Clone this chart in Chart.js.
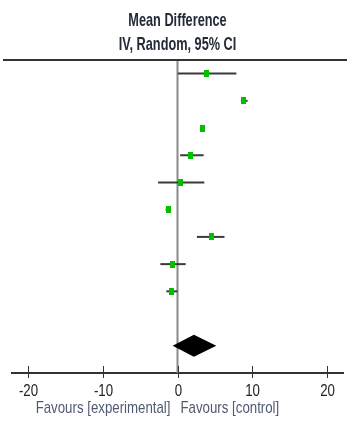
<!DOCTYPE html>
<html>
<head>
<meta charset="utf-8">
<script src="https://cdn.jsdelivr.net/npm/chart.js@4.4.1/dist/chart.umd.min.js"></script>
<style>
    body { margin: 0; background: #fff; }
    #wrap { width: 347px; height: 427px; position: relative; }
</style>
</head>
<body>
<div id="wrap"><canvas id="forest"></canvas></div>
<script>
// study rows (top to bottom), mean difference with 95% CI
const rows = [0, 1, 2, 3, 4, 5, 6, 7, 8];
const md = [3.9, 8.9, 3.4, 1.8, 0.45, -1.25, 4.5, -0.65, -0.8];
const ciLow = [0.05, 8.5, 3.1, 0.35, -2.6, -1.6, 2.6, -2.3, -1.5];
const ciHigh = [7.9, 9.4, 3.6, 3.5, 3.6, -0.9, 6.3, 1.1, 0.0];

// pooled estimate (diamond)
const totalRow = 10;
const totalMd = 2.2;
const totalLow = -0.65;
const totalHigh = 5.2;

const xTicks = [-20, -10, 0, 10, 20];
const fontName = '"Liberation Sans", Arial, sans-serif';

// narrow text: Arial squeezed sideways
function narrowText(ctx, text, x, y, align, font, sx, color) {
    ctx.save();
    ctx.translate(x, y);
    ctx.scale(sx, 1);
    ctx.font = font + ' ' + fontName;
    ctx.fillStyle = color;
    ctx.textAlign = align;
    ctx.textBaseline = 'middle';
    ctx.fillText(text, 0, 0);
    ctx.restore();
}

// slightly tall green box used as the point marker
const marker = document.createElement('canvas');
marker.width = 5;
marker.height = 7;
const mctx = marker.getContext('2d');
mctx.fillStyle = '#00c000';
mctx.fillRect(0, 0, 5, 7);

const forestPlugin = {
    id: 'forest',
    beforeDatasetsDraw(chart) {
        const { ctx, chartArea, scales: { x, y } } = chart;
        ctx.save();
        // line of no effect
        ctx.strokeStyle = '#8a8a8a';
        ctx.lineWidth = 2;
        ctx.beginPath();
        ctx.moveTo(x.getPixelForValue(0), chartArea.top);
        ctx.lineTo(x.getPixelForValue(0), chartArea.bottom);
        ctx.stroke();
        // confidence intervals
        ctx.strokeStyle = '#3a3a3a';
        ctx.lineWidth = 2;
        rows.forEach((r, i) => {
            const py = y.getPixelForValue(r);
            ctx.beginPath();
            ctx.moveTo(x.getPixelForValue(ciLow[i]), py);
            ctx.lineTo(x.getPixelForValue(ciHigh[i]), py);
            ctx.stroke();
        });
        // diamond
        const dy = y.getPixelForValue(totalRow);
        ctx.fillStyle = '#000';
        ctx.beginPath();
        ctx.moveTo(x.getPixelForValue(totalLow), dy);
        ctx.lineTo(x.getPixelForValue(totalMd), dy - 11);
        ctx.lineTo(x.getPixelForValue(totalHigh), dy);
        ctx.lineTo(x.getPixelForValue(totalMd), dy + 11);
        ctx.closePath();
        ctx.fill();
        ctx.restore();
    },
    afterDraw(chart) {
        const { ctx, chartArea, scales: { x } } = chart;
        const x0 = x.getPixelForValue(0);
        ctx.save();
        // top rule
        ctx.strokeStyle = '#333';
        ctx.lineWidth = 2;
        ctx.beginPath();
        ctx.moveTo(3, chartArea.top);
        ctx.lineTo(347, chartArea.top);
        ctx.stroke();
        // tick marks crossing the axis, with labels
        ctx.lineWidth = 1;
        xTicks.forEach((t) => {
            const px = Math.round(x.getPixelForValue(t)) + 0.5;
            ctx.beginPath();
            ctx.moveTo(px, chartArea.bottom - 7);
            ctx.lineTo(px, chartArea.bottom + 5);
            ctx.stroke();
            narrowText(ctx, String(t), px, chartArea.bottom + 18, 'center', '17px', 0.78, '#222');
        });
        ctx.restore();
        // header
        narrowText(ctx, 'Mean Difference', x0, 21, 'center', 'bold 19px', 0.67, '#232a38');
        narrowText(ctx, 'IV, Random, 95% CI', x0, 45, 'center', 'bold 19px', 0.67, '#232a38');
        // favours labels
        narrowText(ctx, 'Favours [experimental]', x0 - 7, 408, 'right', '17px', 0.78, '#4f5a72');
        narrowText(ctx, 'Favours [control]', x0 + 3, 408, 'left', '17px', 0.78, '#4f5a72');
    },
};

new Chart(document.getElementById('forest'), {
    type: 'scatter',
    data: {
        datasets: [
            {
                data: rows.map((r, i) => ({ x: md[i], y: r })),
                pointStyle: marker,
                pointRadius: 4,
                backgroundColor: '#00c000',
                borderWidth: 0,
            },
        ],
    },
    options: {
        responsive: true,
        maintainAspectRatio: false,
        animation: false,
        layout: { padding: { top: 60, left: 12, right: 2, bottom: 0 } },
        plugins: { legend: { display: false }, tooltip: { enabled: false } },
        scales: {
            x: {
                type: 'linear',
                min: -22.2,
                max: 22.2,
                afterBuildTicks: (axis) => { axis.ticks = xTicks.map((v) => ({ value: v })); },
                afterFit: (axis) => { axis.height = 54; },
                grid: { display: false, drawTicks: false },
                border: { display: true, color: '#333', width: 2 },
                ticks: { display: false },
            },
            y: {
                type: 'linear',
                display: false,
                reverse: true,
                min: -0.5,
                max: 11,
            },
        },
    },
    plugins: [forestPlugin],
});
</script>
</body>
</html>
